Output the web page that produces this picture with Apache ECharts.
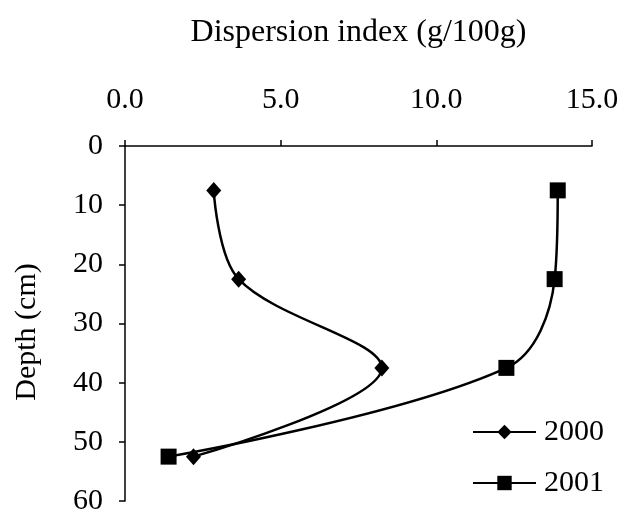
<!DOCTYPE html>
<html>
<head>
<meta charset="utf-8">
<script src="https://cdn.jsdelivr.net/npm/echarts@6/dist/echarts.min.js"></script>
<style>
  html, body { margin: 0; padding: 0; background: #fff; }
  #chart { width: 625px; height: 516px; }
</style>
</head>
<body>
<div id="chart"></div>
<script>
// Sampling depths (cm) and dispersion index per year
const depths = [7.5, 22.5, 37.5, 52.5];
const dispersion2000 = [2.85, 3.65, 8.25, 2.2];
const dispersion2001 = [13.9, 13.8, 12.25, 1.4];
const seriesNames = ['2000', '2001'];
const xTicks = [0, 5, 10, 15];

const toPoints = (xs) => xs.map((x, i) => [x, depths[i]]);
const serifFont = '"Liberation Serif", "DejaVu Serif", serif';

const chart = echarts.init(document.getElementById('chart'));
chart.setOption({
  backgroundColor: '#fff',
  animation: false,
  textStyle: { fontFamily: serifFont, color: '#000' },
  grid: { left: 125, right: 33, top: 146, bottom: 11, containLabel: false },
  xAxis: {
    type: 'value',
    position: 'top',
    min: xTicks[0],
    max: xTicks[xTicks.length - 1],
    interval: 5,
    name: 'Dispersion index (g/100g)',
    nameLocation: 'middle',
    nameGap: 97,
    nameTextStyle: { fontFamily: serifFont, fontSize: 32, color: '#000' },
    axisLine: { show: true, lineStyle: { color: '#000', width: 1.5 } },
    axisTick: { show: true, length: 6, lineStyle: { color: '#000', width: 1.5 } },
    axisLabel: {
      fontFamily: serifFont, fontSize: 30, color: '#000', margin: 31,
      formatter: (v) => v.toFixed(1)
    },
    splitLine: { show: false }
  },
  yAxis: {
    type: 'value',
    inverse: true,
    min: 0,
    max: 60,
    interval: 10,
    name: 'Depth (cm)',
    nameLocation: 'middle',
    nameGap: 83,
    nameRotate: 90,
    nameTextStyle: { fontFamily: serifFont, fontSize: 30, color: '#000', padding: [0, 17, 0, 0] },
    axisLine: { show: true, lineStyle: { color: '#000', width: 1.5 } },
    axisTick: { show: true, length: 6, lineStyle: { color: '#000', width: 1.5 } },
    axisLabel: { fontFamily: serifFont, fontSize: 30, color: '#000', margin: 22 },
    splitLine: { show: false }
  },
  legend: {
    orient: 'vertical',
    left: 467,
    top: 412,
    itemWidth: 63,
    itemHeight: 18,
    itemGap: 21,
    textStyle: { fontFamily: serifFont, fontSize: 30, color: '#000', padding: [0, 0, 0, 3] },
    data: seriesNames
  },
  series: [
    {
      name: seriesNames[0],
      type: 'line',
      smooth: 0.35,
      data: toPoints(dispersion2000),
      symbol: 'diamond',
      symbolSize: [15, 17],
      itemStyle: { color: '#000' },
      lineStyle: { color: '#000', width: 2.5 }
    },
    {
      name: seriesNames[1],
      type: 'line',
      smooth: 0.35,
      data: toPoints(dispersion2001),
      symbol: 'rect',
      symbolSize: 16,
      itemStyle: { color: '#000' },
      lineStyle: { color: '#000', width: 2.5 }
    }
  ]
});
</script>
</body>
</html>
